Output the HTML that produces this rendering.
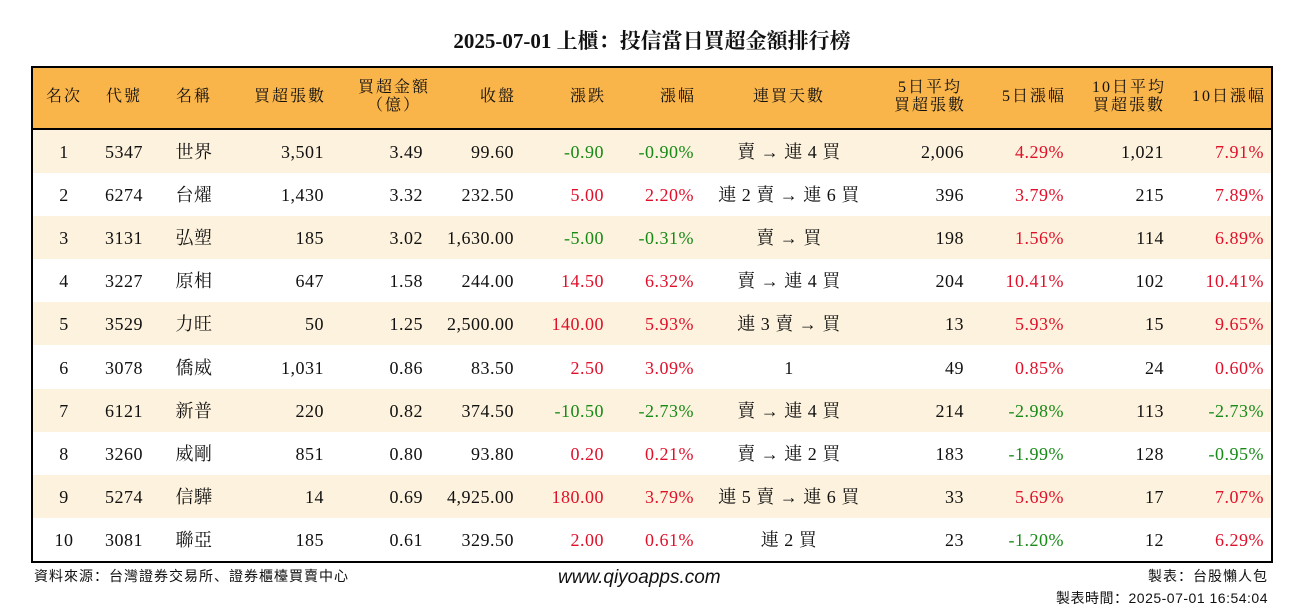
<!DOCTYPE html>
<html><head><meta charset="utf-8">
<style>
body{margin:0;width:1304px;height:612px;background:#fff;position:relative;overflow:hidden;font-family:"Liberation Serif","Noto Serif CJK SC",serif;color:#111}
#title{position:absolute;left:0;width:1304px;top:28px;text-align:center;font-size:21px;font-weight:bold;line-height:26px}
#tbl{position:absolute;left:31px;top:66px;width:1238px;height:493px;border:2px solid #000;overflow:hidden}
#hdr{position:absolute;left:0;top:0;width:1238px;height:60px;background:#f9b44a;border-bottom:2px solid #000}
.c{position:absolute;white-space:nowrap;font-size:18px;line-height:22px;letter-spacing:0.5px}
.h{position:absolute;white-space:nowrap;font-size:16px;line-height:18px;text-align:center;letter-spacing:2px}
.row{position:absolute;left:0;width:1238px;height:43.1px}
.g{color:#178a17}.r{color:#e0102a}
.foot{position:absolute;font-size:14px;line-height:18px;letter-spacing:1px;font-family:"Liberation Sans","Noto Sans CJK SC",sans-serif}
</style></head><body>
<div id="title">2025-07-01 上櫃：投信當日買超金額排行榜</div>
<div id="tbl">
<div id="hdr"></div>
<div id="body"></div>
</div>
<div class="foot" style="left:34px;top:567px">資料來源：台灣證券交易所、證券櫃檯買賣中心</div>
<div class="foot" style="left:558px;top:569px;font-size:19px;font-style:italic;letter-spacing:0">www.qiyoapps.com</div>
<div class="foot" style="right:36px;top:567px">製表：台股懶人包</div>
<div class="foot" style="right:36px;top:589px;letter-spacing:0.5px">製表時間：2025-07-01 16:54:04</div>
<script>
const ranks=[1,2,3,4,5,6,7,8,9,10];
const codes=["5347","6274","3131","3227","3529","3078","6121","3260","5274","3081"];
const names=["世界","台燿","弘塑","原相","力旺","僑威","新普","威剛","信驊","聯亞"];
const lots=["3,501","1,430","185","647","50","1,031","220","851","14","185"];
const amts=["3.49","3.32","3.02","1.58","1.25","0.86","0.82","0.80","0.69","0.61"];
const closes=["99.60","232.50","1,630.00","244.00","2,500.00","83.50","374.50","93.80","4,925.00","329.50"];
const chgs=["-0.90","5.00","-5.00","14.50","140.00","2.50","-10.50","0.20","180.00","2.00"];
const pcts=["-0.90%","2.20%","-0.31%","6.32%","5.93%","3.09%","-2.73%","0.21%","3.79%","0.61%"];
const streaks=["賣 → 連 4 買","連 2 賣 → 連 6 買","賣 → 買","賣 → 連 4 買","連 3 賣 → 買","1","賣 → 連 4 買","賣 → 連 2 買","連 5 賣 → 連 6 買","連 2 買"];
const avg5=["2,006","396","198","204","13","49","214","183","33","23"];
const pct5=["4.29%","3.79%","1.56%","10.41%","5.93%","0.85%","-2.98%","-1.99%","5.69%","-1.20%"];
const avg10=["1,021","215","114","102","15","24","113","128","17","12"];
const pct10=["7.91%","7.89%","6.89%","10.41%","9.65%","0.60%","-2.73%","-0.95%","7.07%","6.29%"];
const headers=[["名次",31,"c"],["代號",91,"c"],["名稱",161,"c"],["買超張數",291,"r"],["買超金額<br>（億）",361,"c"],["收盤",481,"r"],["漲跌",571,"r"],["漲幅",661,"r"],["連買天數",756,"c"],["5日平均<br>買超張數",931,"r"],["5日漲幅",1031,"r"],["10日平均<br>買超張數",1131,"r"],["10日漲幅",1231,"r"]];
const hdr=document.getElementById('hdr');
headers.forEach(h=>{const d=document.createElement('div');d.className='h';d.innerHTML=h[0];


const multi=h[0].includes('<br>');d.style.top=(multi?11:20)+'px';
if(h[2]=='c'){d.style.left=(h[1]-60)+'px';d.style.width='120px';}else{d.style.right=(1238-h[1]-2)+'px';d.style.textAlign=multi?'center':'right';}
hdr.appendChild(d);});
const body=document.getElementById('body');
const cls=v=>v.startsWith('-')?'g':'r';
for(let i=0;i<ranks.length;i++){
 const row=document.createElement('div');row.className='row';
 
 
 row.style.top=(62+i*43.1)+'px';row.style.background=i%2==0?'#fdf2dd':'#fff';
 const cells=[[ranks[i],31,'c',''],[codes[i],91,'c',''],[names[i],161,'c',''],[lots[i],291,'r',''],[amts[i],390,'r',''],[closes[i],481,'r',''],[chgs[i],571,'r',cls(chgs[i])],[pcts[i],661,'r',cls(pcts[i])],[streaks[i],756,'c',''],[avg5[i],931,'r',''],[pct5[i],1031,'r',cls(pct5[i])],[avg10[i],1131,'r',''],[pct10[i],1231,'r',cls(pct10[i])]];
 cells.forEach(c=>{const d=document.createElement('div');d.className='c '+c[3];d.textContent=c[0];
 
 
 d.style.top='11px';
 if(c[2]=='c'){d.style.left=(c[1]-100)+'px';d.style.width='200px';d.style.textAlign='center';}else{d.style.right=(1238-c[1])+'px';}
 row.appendChild(d);});
 body.appendChild(row);
}
</script>
</body></html>
